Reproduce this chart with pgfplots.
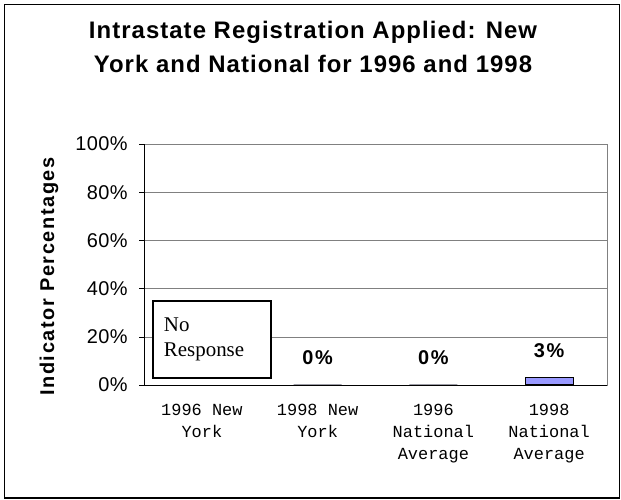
\documentclass[border=0pt]{standalone}
\usepackage{fontspec}
\setmainfont{Liberation Sans}
\newfontfamily\serif{Liberation Serif}
\newfontfamily\mono{Liberation Mono}
\newfontfamily\titlefont{Liberation Sans}[LetterSpace=4.4]
\newfontfamily\labelfont{Liberation Sans}[LetterSpace=8]
\newfontfamily\tickfont{Liberation Sans}[LetterSpace=2]
\usepackage{pgfplots}
\pgfplotsset{compat=1.18}

\definecolor{barblue}{HTML}{9999FF}
\definecolor{gridgray}{HTML}{808080}

\begin{document}
\begin{tikzpicture}[x=1bp,y=1bp]
  \useasboundingbox (0,0) rectangle (621,500);
  \draw[line width=1.2bp] (4.7,2) rectangle (619.5,495.3);
  \begin{axis}[
    at={(144bp,115bp)}, anchor=south west,
    scale only axis, width=463bp, height=241bp,
    xmin=0.5, xmax=4.5, ymin=0, ymax=100,
    axis line style={gridgray},
    ybar, bar width=48bp,
    xtick pos=bottom, ytick pos=left,
    xtick={1,2,3,4},
    xticklabels={1996 New\\York, 1998 New\\York, 1996\\National\\Average, 1998\\National\\Average},
    x tick label style={font=\mono\fontsize{17}{22}\selectfont, align=center, anchor=north, yshift=-11bp},
    major x tick style={draw=none},
    extra x ticks={0.5,1.5,2.5,3.5,4.5},
    extra x tick labels={},
    extra x tick style={tick style={black}, major tick length=5bp, tick align=outside, xtick pos=bottom},
    ytick={0,20,40,60,80,100},
    yticklabels={0\%,20\%,40\%,60\%,80\%,100\%},
    y tick label style={font=\tickfont\fontsize{20}{22}\selectfont, xshift=-8bp},
    tick align=outside, major tick length=5bp,
    y tick style={black},
    ymajorgrids, grid style={gridgray},
    ylabel={Indicator Percentages},
    ylabel style={font=\labelfont\bfseries\fontsize{20}{22}\selectfont, at={(axis description cs:-0.205,0.45)}, anchor=center},
    title={Intrastate Registration Applied: New\\York and National for 1996 and 1998},
    title style={font=\titlefont\bfseries\fontsize{24}{34}\selectfont, align=center, at={(axis description cs:0.365,1.378)}, anchor=center},
    nodes near coords={\pgfmathprintnumber[assume math mode=true]{\pgfplotspointmeta}\%},
    every node near coord/.append style={font=\labelfont\bfseries\fontsize{20}{22}\selectfont, black, anchor=south, inner sep=0pt, yshift=19.5bp},
    clip=false,
  ]
    \addplot[fill=barblue, draw=black, line width=1bp] coordinates {(2,0) (3,0) (4,3)};
    \draw[black] (axis cs:0.5,0) -- (axis cs:0.5,100);
    \draw[black] (axis cs:0.5,0) -- (axis cs:4.5,0);
    \node[draw=black, line width=1.3bp, fill=white, minimum width=118bp, minimum height=77bp,
          text width=96bp, align=left, inner sep=0pt, font=\serif\fontsize{21}{25}\selectfont]
      at (axis cs:1.087,18.9) {No\\Response};
  \end{axis}
\end{tikzpicture}
\end{document}
